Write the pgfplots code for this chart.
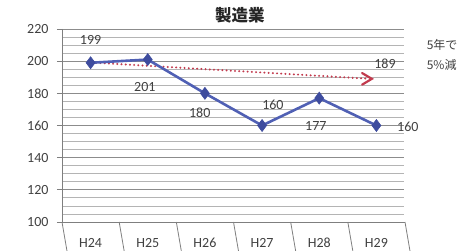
\documentclass[border=0pt]{standalone}
\usepackage{pgfplots}
\pgfplotsset{compat=1.18}
\usepackage{fontspec}
\setmainfont{Carlito}
\newfontfamily\jp{Noto Sans CJK JP}
\definecolor{lineblue}{HTML}{5060B4}
\definecolor{markblue}{HTML}{3E4C9E}
\definecolor{arrowred}{HTML}{C23B4E}
\definecolor{txt}{HTML}{404040}
\definecolor{axgray}{HTML}{7F7F7F}
\definecolor{gmaj}{HTML}{8C8C8C}
\definecolor{gmin}{HTML}{B4B4B4}
\begin{document}
\begin{tikzpicture}
\begin{axis}[
  at={(0,0)}, anchor=south west,
  scale only axis, width=343bp, height=193bp,
  xmin=-0.5, xmax=5.5, ymin=100, ymax=220,
  clip=false,
  axis line style={draw=none},
  xtick pos=lower, ytick pos=left,
  xtick={0,1,2,3,4,5},
  xticklabels={H24,H25,H26,H27,H28,H29},
  xtick style={draw=none},
  ytick style={draw=axgray, line width=0.8bp},
  ytick={100,120,...,220},
  minor y tick num=3,
  tick align=outside, major tick length=5bp, minor tick length=0pt,
  ymajorgrids, yminorgrids,
  major grid style={draw=gmaj, line width=0.9bp},
  minor grid style={draw=gmin, line width=0.8bp},
  tick label style={font=\fontsize{14bp}{16bp}\selectfont, text=txt},
  yticklabel style={xshift=-5bp},
  xticklabel style={anchor=base, yshift=-20bp},
  /pgf/number format/assume math mode=true,
]
\draw[white, line width=1.2bp] (rel axis cs:1,0.003) -- (rel axis cs:1,1.003);
\draw[axgray, line width=0.8bp] (rel axis cs:0,1) -- (rel axis cs:0,0) -- (rel axis cs:1,0);
\draw[axgray, line width=0.8bp] (axis cs:-0.5,100) -- ++(0,-5bp);
\draw[axgray, line width=0.8bp] (axis cs:0.5,100) -- ++(0,-5bp);
\draw[axgray, line width=0.8bp] (axis cs:1.5,100) -- ++(0,-5bp);
\draw[axgray, line width=0.8bp] (axis cs:2.5,100) -- ++(0,-5bp);
\draw[axgray, line width=0.8bp] (axis cs:3.5,100) -- ++(0,-5bp);
\draw[axgray, line width=0.8bp] (axis cs:4.5,100) -- ++(0,-5bp);
\draw[axgray, line width=0.8bp] (axis cs:5.5,100) -- ++(0,-5bp);
\addplot[arrowred, line width=2.2bp, dash pattern=on 0.01bp off 4.2bp, line cap=round, forget plot] coordinates {(0.1,199) (4.85,189.1)};
\draw[arrowred, line width=2.2bp, line cap=round, line join=miter] (axis cs:4.75,192.6) -- (axis cs:4.92,189) -- (axis cs:4.75,185.4);
\addplot[lineblue, line width=2.6bp, mark=diamond*, mark size=6bp, mark options={fill=markblue, draw=markblue, line width=0.6bp}] coordinates {
(0,199) (1,201) (2,180) (3,160) (4,177) (5,160)};
\begin{scope}[every node/.style={font=\fontsize{14bp}{16bp}\selectfont, text=txt}]
\node at (axis cs:0,213.2) {199};
\node at (axis cs:0.95,183.9) {201};
\node at (axis cs:1.91,167.8) {180};
\node at (axis cs:3.19,172.7) {160};
\node at (axis cs:3.94,159.7) {177};
\node at (axis cs:5.55,159.3) {160};
\node at (axis cs:5.15,198.4) {189};
\end{scope}
\node[anchor=west, font=\jp\fontsize{12bp}{14bp}\selectfont, text=txt] at (axis cs:5.82,210.3) {5年で};
\node[anchor=west, font=\jp\fontsize{12bp}{14bp}\selectfont, text=txt] at (axis cs:5.82,197.8) {5\%減};
\node[font=\jp\bfseries\fontsize{16.5bp}{18bp}\selectfont, text=black!85] at (axis cs:2.61,228.3) {製造業};
\end{axis}
\pgfresetboundingbox
\path[use as bounding box] (-62bp,-29bp) rectangle (401bp,222bp);
\end{tikzpicture}
\end{document}
